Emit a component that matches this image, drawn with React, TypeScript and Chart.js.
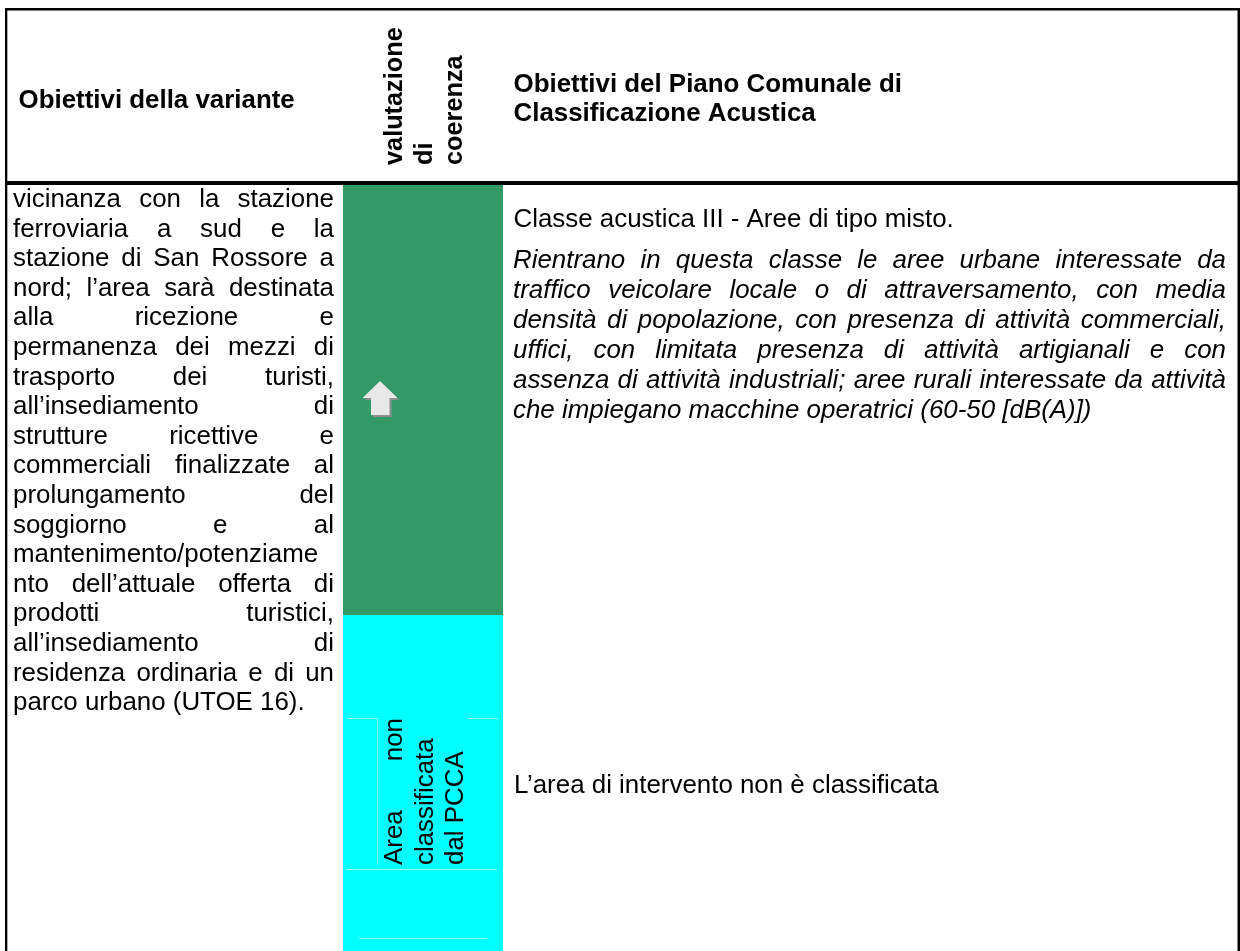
import React, { useEffect, useRef } from "react";
import { Chart, registerables } from "chart.js";

Chart.register(...registerables);

// ---------- DATA ----------
const headerVariante = ["Obiettivi della variante"];
const headerValutazione = ["valutazione", "di", "coerenza"];
const headerPiano = ["Obiettivi del Piano Comunale di", "Classificazione Acustica"];

const varianteLines = [
  "vicinanza con la stazione",
  "ferroviaria a sud e la",
  "stazione di San Rossore a",
  "nord; l’area sarà destinata",
  "alla ricezione e",
  "permanenza dei mezzi di",
  "trasporto dei turisti,",
  "all’insediamento di",
  "strutture ricettive e",
  "commerciali finalizzate al",
  "prolungamento del",
  "soggiorno e al",
  "mantenimento/potenziame",
  "nto dell’attuale offerta di",
  "prodotti turistici,",
  "all’insediamento di",
  "residenza ordinaria e di un",
  "parco urbano (UTOE 16).",
];

const valutazioni = ["coerente", "non classificata"];
const valutazioneLabel = ["Area non", "classificata", "dal PCCA"];

const classeTitle = "Classe acustica III - Aree di tipo misto.";
const classeDescLines = [
  "Rientrano in questa classe le aree urbane interessate da",
  "traffico veicolare locale o di attraversamento, con media",
  "densità di popolazione, con presenza di attività commerciali,",
  "uffici, con limitata presenza di attività artigianali e con",
  "assenza di attività industriali; aree rurali interessate da attività",
  "che impiegano macchine operatrici (60-50 [dB(A)])",
];
const nonClassificataText = "L’area di intervento non è classificata";

// ---------- LAYOUT / STYLE ----------
const W = 1240;
const H = 951;
const FONT = "'Liberation Sans', Arial, sans-serif";
const REG = 25.9;
const BOLD = 25.9;

const colors: Record<string, string> = {
  coerente: "#339966",
  "non classificata": "#00FFFF",
};

function drawJustified(ctx: CanvasRenderingContext2D, text: string, x0: number, x1: number, y: number, justify: boolean) {
  const words = text.split(" ");
  if (!justify || words.length < 2) {
    ctx.fillText(text, x0, y);
    return;
  }
  const widths = words.map((w) => ctx.measureText(w).width);
  const total = widths.reduce((a, b) => a + b, 0);
  const gap = (x1 - x0 - total) / (words.length - 1);
  let x = x0;
  words.forEach((w, i) => {
    ctx.fillText(w, x, y);
    x += widths[i] + gap;
  });
}

const tablePlugin = {
  id: "tablePlugin",
  afterDraw(chart: any) {
    const ctx: CanvasRenderingContext2D = chart.ctx;
    const sx = chart.scales.x;
    const sy = chart.scales.y;
    const X = (v: number) => sx.getPixelForValue(v);
    const Y = (v: number) => sy.getPixelForValue(v);

    ctx.save();
    ctx.fillStyle = "#ffffff";
    ctx.fillRect(0, 0, W, H);

    // assessment cells
    const rowBounds = [[185, 615], [615, 960]];
    valutazioni.forEach((v, i) => {
      ctx.fillStyle = colors[v];
      const [a, b] = rowBounds[i];
      ctx.fillRect(X(343), Y(a), X(503) - X(343), Y(b) - Y(a));
    });

    // borders
    ctx.fillStyle = "#000000";
    ctx.fillRect(X(5), Y(8), X(7.3) - X(5), Y(960) - Y(8));
    ctx.fillRect(X(5), Y(8), X(1240) - X(5), Y(10.5) - Y(8));
    ctx.fillRect(X(1237.5), Y(8), X(1240) - X(1237.5), Y(960) - Y(8));
    ctx.fillRect(X(5), Y(181), X(1240) - X(5), Y(185) - Y(181));

    ctx.fillStyle = "#000000";
    ctx.textBaseline = "alphabetic";
    ctx.textAlign = "left";

    // headers
    ctx.font = `bold ${BOLD}px ${FONT}`;
    ctx.fillText(headerVariante[0], X(18.5), Y(108));
    headerPiano.forEach((t, i) => ctx.fillText(t, X(513.5), Y(91.5 + i * 29)));
    headerValutazione.forEach((t, i) => {
      ctx.save();
      ctx.translate(X(402 + i * 30), Y(165));
      ctx.rotate(-Math.PI / 2);
      ctx.font = `bold 25.3px ${FONT}`;
      ctx.fillText(t, 0, 0);
      ctx.restore();
    });

    // left column
    ctx.font = `${REG}px ${FONT}`;
    varianteLines.forEach((t, i) => {
      const last = i === varianteLines.length - 1;
      drawJustified(ctx, t, X(13), X(334), Y(207 + i * 29.6), !last);
    });

    // right column
    ctx.font = `${REG}px ${FONT}`;
    ctx.fillText(classeTitle, X(513.5), Y(227));
    ctx.font = `italic ${REG}px ${FONT}`;
    classeDescLines.forEach((t, i) => {
      const last = i === classeDescLines.length - 1;
      drawJustified(ctx, t, X(513), X(1226), Y(268 + i * 30), !last);
    });
    ctx.font = `${REG}px ${FONT}`;
    ctx.fillText(nonClassificataText, X(514), Y(793));

    // arrow (positive assessment)
    const arrow = (dx: number, dy: number, fill: string) => {
      ctx.beginPath();
      ctx.moveTo(X(380 + dx), Y(381 + dy));
      ctx.lineTo(X(397.5 + dx), Y(398 + dy));
      ctx.lineTo(X(389.5 + dx), Y(398 + dy));
      ctx.lineTo(X(389.5 + dx), Y(415 + dy));
      ctx.lineTo(X(371 + dx), Y(415 + dy));
      ctx.lineTo(X(371 + dx), Y(398 + dy));
      ctx.lineTo(X(362.5 + dx), Y(398 + dy));
      ctx.closePath();
      ctx.fillStyle = fill;
      ctx.fill();
    };
    arrow(2, 2, "#8f8f8f");
    arrow(0, 0, "#e8e8e8");

    // faint textbox lines in cyan cell
    ctx.strokeStyle = "rgba(255,255,255,0.55)";
    ctx.lineWidth = 1;
    const seg = (x1: number, y1: number, x2: number, y2: number) => {
      ctx.beginPath();
      ctx.moveTo(X(x1), Y(y1));
      ctx.lineTo(X(x2), Y(y2));
      ctx.stroke();
    };
    seg(347, 718.5, 377, 718.5);
    seg(468, 718.5, 498, 718.5);
    seg(377.5, 718, 377.5, 865);
    seg(347, 869.5, 497, 869.5);
    seg(359, 938.5, 487, 938.5);

    // rotated label in cyan cell
    ctx.fillStyle = "#000000";
    ctx.font = `${REG}px ${FONT}`;
    valutazioneLabel.forEach((t, i) => {
      ctx.save();
      ctx.translate(X(402 + i * 30.5), Y(865));
      ctx.rotate(-Math.PI / 2);
      drawJustified(ctx, t, 0, 147, 0, i === 0);
      ctx.restore();
    });

    ctx.restore();
  },
};

export default function App() {
  const ref = useRef<HTMLCanvasElement | null>(null);
  useEffect(() => {
    document.body.style.margin = "0";
    document.body.style.overflow = "hidden";
    const canvas = ref.current!;
    const chart = new Chart(canvas, {
      type: "scatter",
      data: { datasets: [{ data: [] }] },
      options: {
        animation: false,
        responsive: false,
        maintainAspectRatio: false,
        devicePixelRatio: 1,
        layout: { padding: 0 },
        plugins: { legend: { display: false }, tooltip: { enabled: false } },
        scales: {
          x: { type: "linear", min: 0, max: W, display: false },
          y: { type: "linear", min: 0, max: H, reverse: true, display: false },
        },
      },
      plugins: [tablePlugin],
    });
    return () => chart.destroy();
  }, []);
  return <canvas ref={ref} width={W} height={H} style={{ display: "block", width: W, height: H }} />;
}
